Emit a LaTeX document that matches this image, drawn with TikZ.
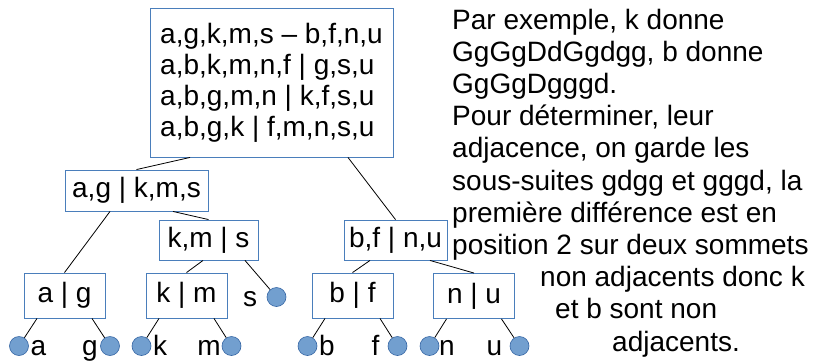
\documentclass[tikz,border=0pt]{standalone}
\usepackage{fontspec}
\setmainfont{Liberation Sans}
\usetikzlibrary{calc}
\definecolor{boxblue}{HTML}{4A7EBB}
\definecolor{dotfill}{HTML}{729FCF}
\definecolor{dotline}{HTML}{3465A4}
\tikzset{
    txt/.style={font=\fontsize{28}{32.2}\selectfont, inner sep=0pt},
    split/.style={draw=boxblue, line width=0.9pt, font=\fontsize{28}{31}\selectfont, inner sep=0pt},
    leaf/.style={circle, fill=dotfill, draw=dotline, line width=0.6pt, minimum size=19pt, inner sep=0pt},
    edge/.style={line width=0.8pt}
}

\begin{document}
\begin{tikzpicture}[x=1pt,y=-1pt]
\useasboundingbox (0,0) rectangle (819,360);
% root of the split tree
\node[split, minimum width=243pt, minimum height=149pt, align=left] (root) at (271.5,82.5)
  {a,g,k,m,s – b,f,n,u\\ a,b,k,m,n,f | g,s,u\\ a,b,g,m,n | k,f,s,u\\ a,b,g,k | f,m,n,s,u};
% inner splits
\node[split, minimum width=143pt, minimum height=41pt] (agkms) at (136.5,190.5) {a,g | k,m,s};
\node[split, minimum width=99pt, minimum height=40pt] (kms) at (208.5,240) {k,m | s};
\node[split, minimum width=103pt, minimum height=40pt] (bfnu) at (395.5,240) {b,f | n,u};
\node[split, minimum width=81pt, minimum height=45pt] (ag) at (64.5,295.5) {a | g};
\node[split, minimum width=81pt, minimum height=45pt] (km) at (186.5,295.5) {k | m};
\node[split, minimum width=81pt, minimum height=45pt] (bf) at (352.5,295.5) {b | f};
\node[split, minimum width=81pt, minimum height=45pt] (nu) at (474,296) {n | u};
% leaves
\foreach \n/\x/\y in {la/19/346,lg/110/346,lk/141.5/346,lm/231.5/346,ls/276.5/297,
                      lb/307.5/346,lf/397.5/346,ln/429.5/346,lu/519.5/346}
  \node[leaf] (\n) at (\x,\y) {};
\foreach \n/\t/\x/\y in {ta/a/38.5/355,tg/g/90/355,tk/k/160/355,tm/m/209/355,ts/s/250/306,
                         tb/b/327/355,tf/f/375.5/355,tn/n/447/355,tu/u/494.5/355}
  \node[txt, anchor=base] (\n) at (\x,\y) {\t};
% edges
\draw[edge] ([xshift=-81.5pt]root.south) -- (agkms.north);
\draw[edge] ([xshift=76.5pt]root.south) -- (bfnu.north);
\draw[edge] ([xshift=-26.5pt]agkms.south) -- (ag.north);
\draw[edge] ([xshift=36.5pt]agkms.south) -- (kms.north);
\draw[edge] ([xshift=-5.5pt]kms.south) -- (km.north);
\draw[edge] ([xshift=36.5pt]kms.south) -- (ls);
\draw[edge] ([xshift=-25.5pt]bfnu.south) -- (bf.north);
\draw[edge] ([xshift=34.5pt]bfnu.south) -- (nu.north);
\foreach \b/\l/\r in {ag/la/lg,km/lk/lm,bf/lb/lf,nu/ln/lu}{
  \draw[edge] ([xshift=-27.5pt]\b.south) -- (\l);
  \draw[edge] ([xshift=27.5pt]\b.south) -- (\r);
}
% explanation (base = last line)
\node[txt, anchor=base west, align=left] (expl) at (452,351)
  {Par exemple, k donne\\ GgGgDdGgdgg, b donne\\ GgGgDgggd.\\ Pour déterminer, leur\\
   adjacence, on garde les\\ sous-suites gdgg et gggd, la\\ première différence est en\\
   position 2 sur deux sommets\\ \hspace*{88pt}non adjacents donc k\\
   \hspace*{103pt}et b sont non\\ \hspace*{160pt}adjacents.};
\end{tikzpicture}
\end{document}
